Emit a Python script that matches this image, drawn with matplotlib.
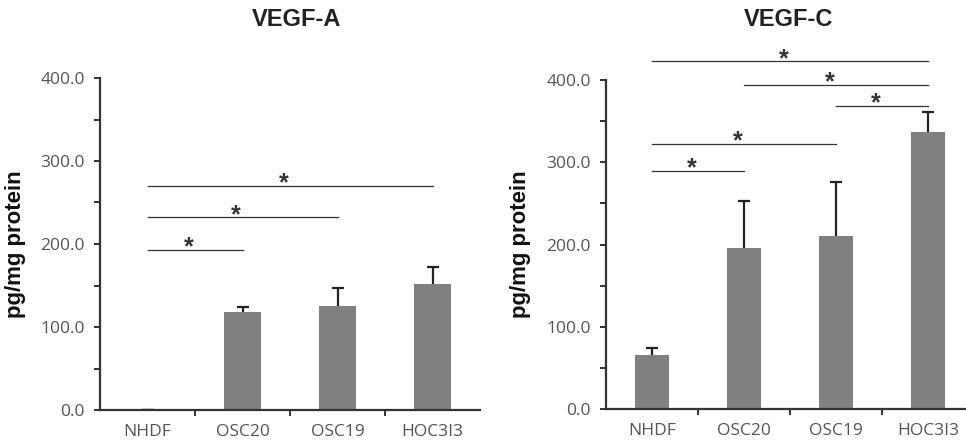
import numpy as np
import matplotlib.pyplot as plt
from matplotlib.ticker import MultipleLocator, FixedLocator

categories = ['NHDF', 'OSC20', 'OSC19', 'HOC3I3']

vegf_a = [0.0, 118.5, 125.5, 152.0]
vegf_a_err = [0.0, 6.0, 21.0, 20.0]
vegf_a_sig = [(0, 1, 193.0), (0, 2, 232.5), (0, 3, 270.0)]

vegf_c = [66.0, 195.5, 210.0, 337.0]
vegf_c_err = [9.0, 57.0, 65.5, 24.5]
vegf_c_sig = [(0, 1, 290.0), (0, 2, 322.5), (2, 3, 368.5), (1, 3, 394.0), (0, 3, 423.0)]

W, H = 966, 442
bar_color = '#7f8082'
axis_color = '#333333'
tick_color = '#555555'

fig = plt.figure(figsize=(W / 100, H / 100), dpi=100)


def panel(rect, title, title_x, values, errs, sigs, ylabel_x):
    ax = fig.add_axes(rect)
    x = np.arange(len(categories))
    ax.errorbar(x, values, yerr=errs, fmt='none', ecolor='#222222', elinewidth=1.6,
                capsize=4, capthick=1.6, zorder=1)
    ax.bar(x, values, width=0.38, color=bar_color, zorder=2)
    ax.set_xlim(-0.5, 3.5)
    ax.set_ylim(0, 400)

    for side in ['top', 'right']:
        ax.spines[side].set_visible(False)
    for side in ['left', 'bottom']:
        ax.spines[side].set_color(axis_color)
        ax.spines[side].set_linewidth(1.6)

    ax.yaxis.set_major_locator(MultipleLocator(100))
    ax.yaxis.set_minor_locator(MultipleLocator(50))
    ax.set_yticklabels(['%.1f' % v for v in ax.get_yticks()])
    ax.tick_params(axis='y', which='both', direction='out', length=4, width=1.4,
                   color=axis_color, labelcolor=tick_color, labelsize=12.5, pad=7)
    ax.set_xticks(x)
    ax.set_xticklabels(categories)
    ax.xaxis.set_minor_locator(FixedLocator([0.5, 1.5, 2.5]))
    ax.tick_params(axis='x', which='major', length=0, labelcolor=tick_color,
                   labelsize=12.5, pad=10)
    ax.tick_params(axis='x', which='minor', direction='out', length=4, width=1.4,
                   color=axis_color)
    for lab in ax.get_xticklabels() + ax.get_yticklabels():
        lab.set_family('Open Sans')

    ax.set_ylabel('pg/mg protein', fontsize=16, fontweight='bold',
                  family='Liberation Sans', color='#111111')
    ax.yaxis.set_label_coords(ylabel_x, 0.5)

    # significance brackets: flat line with a star sitting just above it
    for i, j, h in sigs:
        ax.plot([i, j], [h, h], color=axis_color, lw=0.9, clip_on=False, zorder=3)
        ax.annotate('*', xy=((i + j) / 2 - 0.07, h), xytext=(0, -3.5),
                    textcoords='offset points', ha='center', va='baseline',
                    fontsize=18, fontweight='bold', color='#333333',
                    family='Liberation Sans', annotation_clip=False)

    fig.text(title_x / W, 1 - 20 / H, title, ha='center', va='center',
             fontsize=17, fontweight='bold', family='Liberation Sans', color='#222222')
    return ax


panel([100 / W, 1 - 410 / H, 380 / W, 332 / H], 'VEGF-A', 297,
      vegf_a, vegf_a_err, vegf_a_sig, -0.195)
panel([606 / W, 1 - 409.3 / H, 368 / W, 329.3 / H], 'VEGF-C', 789,
      vegf_c, vegf_c_err, vegf_c_sig, -0.205)

fig.savefig('out.png', dpi=100)
